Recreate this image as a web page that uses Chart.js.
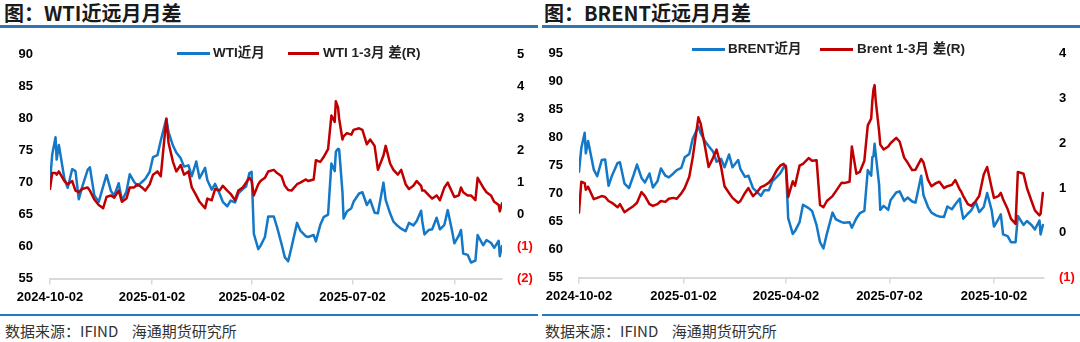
<!DOCTYPE html>
<html lang="zh-CN">
<head>
<meta charset="utf-8">
<title>近远月月差</title>
<script src="https://cdn.jsdelivr.net/npm/chart.js@4.4.1/dist/chart.umd.min.js"></script>
<style>
  html, body { margin: 0; padding: 0; background: #fff; }
  body { width: 1080px; height: 342px; position: relative; overflow: hidden;
         font-family: "Noto Sans CJK SC", "Liberation Sans", sans-serif; color: #222; }
  .panel { position: absolute; top: 0; width: 540px; height: 342px; }
  .title { position: absolute; left: 4px; top: 0px; font-size: 20px; font-weight: bold; line-height: 25px; color: #1a1a1a; white-space: nowrap; }
  .rule-top { position: absolute; left: 0; right: 2px; top: 25px; height: 3px; background: #2e75b6; }
  .rule-bottom { position: absolute; left: 0; right: 2px; top: 314px; height: 2px; background: #1f7bc8; }
  .source { position: absolute; left: 5px; top: 321px; font-size: 15px; line-height: 20px; color: #333; white-space: pre; }
  canvas { position: absolute; left: 0; top: 30px; }
  .lg { position: absolute; font: bold 13.5px "Liberation Sans", "Noto Sans CJK SC", sans-serif; color: #222; line-height: 16px; white-space: nowrap; }
  .sw { position: absolute; height: 3px; }
</style>
</head>
<body>

<div class="panel" style="left:0">
  <div class="title">图：WTI近远月月差</div>
  <div class="rule-top"></div>
  <canvas id="wtiChart" width="540" height="280"></canvas>
  <div class="sw" style="left:177px; top:52px; width:33px; background:#1478c8"></div>
  <div class="lg" style="left:213px; top:45px">WTI近月</div>
  <div class="sw" style="left:288px; top:52px; width:31px; background:#c00000"></div>
  <div class="lg" style="left:323px; top:45px">WTI 1-3月 差(R)</div>
  <div class="rule-bottom"></div>
  <div class="source">数据来源：IFIND    海通期货研究所</div>
</div>

<div class="panel" style="left:540px">
  <div class="title">图：BRENT近远月月差</div>
  <div class="rule-top" style="left:2px; right:0"></div>
  <canvas id="brentChart" width="540" height="280"></canvas>
  <div class="sw" style="left:152px; top:48px; width:33px; background:#1478c8"></div>
  <div class="lg" style="left:188px; top:41px">BRENT近月</div>
  <div class="sw" style="left:280px; top:48px; width:33px; background:#c00000"></div>
  <div class="lg" style="left:317px; top:41px">Brent 1-3月 差(R)</div>
  <div class="rule-bottom" style="left:2px; right:0"></div>
  <div class="source">数据来源：IFIND    海通期货研究所</div>
</div>

<script>
// 取样日期（两张图共用）
const dates = [
  '2024-10-02','2024-10-04','2024-10-07','2024-10-08','2024-10-10','2024-10-15','2024-10-18','2024-10-22','2024-10-25','2024-10-28','2024-10-31',
  '2024-11-05','2024-11-07','2024-11-11','2024-11-15','2024-11-19','2024-11-22','2024-11-26','2024-11-29',
  '2024-12-03','2024-12-06','2024-12-10','2024-12-13','2024-12-17','2024-12-20','2024-12-24','2024-12-27','2024-12-31',
  '2025-01-03','2025-01-07','2025-01-10','2025-01-15','2025-01-17','2025-01-21','2025-01-24','2025-01-28','2025-01-31',
  '2025-02-04','2025-02-07','2025-02-11','2025-02-14','2025-02-19','2025-02-21','2025-02-25','2025-02-28',
  '2025-03-04','2025-03-07','2025-03-11','2025-03-14','2025-03-18','2025-03-21','2025-03-25','2025-03-28','2025-03-31',
  '2025-04-02','2025-04-04','2025-04-08','2025-04-10','2025-04-14','2025-04-17','2025-04-22','2025-04-25','2025-04-29',
  '2025-05-02','2025-05-05','2025-05-08','2025-05-13','2025-05-16','2025-05-21','2025-05-23','2025-05-28','2025-05-30',
  '2025-06-03','2025-06-06','2025-06-10','2025-06-13','2025-06-16','2025-06-17','2025-06-18','2025-06-19','2025-06-20','2025-06-23','2025-06-24','2025-06-27',
  '2025-07-01','2025-07-03','2025-07-08','2025-07-11','2025-07-15','2025-07-18','2025-07-22','2025-07-25','2025-07-30',
  '2025-08-01','2025-08-05','2025-08-08','2025-08-12','2025-08-15','2025-08-19','2025-08-22','2025-08-26','2025-08-29',
  '2025-09-02','2025-09-03','2025-09-05','2025-09-09','2025-09-12','2025-09-16','2025-09-19','2025-09-23','2025-09-26','2025-09-30',
  '2025-10-02','2025-10-06','2025-10-08','2025-10-10','2025-10-14','2025-10-17','2025-10-21','2025-10-23','2025-10-28','2025-10-31',
  '2025-11-04','2025-11-07','2025-11-11','2025-11-12','2025-11-14'
];

// WTI近月（左轴）
const wtiNear = [
  70.1, 74.4, 77.1, 73.6, 75.9, 70.6, 69.2, 72.1, 71.8, 67.4, 69.3,
  72.0, 72.4, 68.0, 67.0, 69.4, 71.2, 68.7, 68.0,
  69.9, 67.2, 68.6, 71.3, 70.1, 69.5, 70.1, 70.6, 71.7,
  74.0, 74.3, 76.6, 80.0, 77.9, 75.8, 74.7, 73.8, 72.5,
  72.7, 71.0, 73.3, 70.7, 72.3, 70.4, 68.9, 69.8,
  68.3, 67.0, 66.3, 67.2, 66.9, 68.3, 69.0, 69.4, 71.5,
  71.7, 62.0, 59.6, 60.1, 61.5, 64.7, 64.7, 63.0, 60.4,
  58.3, 57.7, 59.9, 63.7, 62.5, 61.6, 61.5, 61.8, 60.8,
  63.4, 64.6, 65.0, 73.0, 71.8, 74.8, 75.1, 75.3, 75.2, 68.5, 64.4, 65.5,
  66.0, 67.0, 68.3, 68.5, 66.5, 67.3, 65.3, 65.2, 70.0,
  67.3, 65.2, 63.9, 63.2, 62.8, 62.4, 63.7, 63.3, 64.0,
  65.6, 64.0, 61.9, 62.6, 62.7, 64.5, 62.7, 63.4, 65.7, 62.4,
  60.5, 61.7, 62.6, 58.9, 58.7, 57.5, 57.8, 61.8, 60.2, 61.0,
  60.6, 59.8, 60.9, 58.5, 60.1
];

// WTI 1-3月差（右轴）
const wtiSpread = [
  0.80, 1.30, 1.30, 1.25, 1.35, 1.05, 0.95, 1.05, 0.75, 0.70, 0.80,
  0.85, 0.75, 0.47, 0.30, 0.20, 0.55, 0.60, 0.53,
  0.75, 0.40, 0.50, 0.85, 0.85, 0.95, 0.85, 0.75, 0.95,
  1.25, 1.35, 1.20, 3.00, 2.25, 1.65, 1.35, 1.55, 1.25,
  1.35, 0.85, 0.60, 0.40, 0.20, 0.50, 0.45, 0.80,
  0.75, 0.90, 0.75, 0.65, 0.45, 0.75, 0.85, 1.00, 1.15,
  1.05, 0.60, 0.95, 1.05, 1.15, 1.35, 1.40, 1.30, 1.20,
  0.90, 0.77, 0.75, 0.95, 1.00, 1.10, 1.05, 1.10, 1.70,
  1.65, 1.80, 2.05, 3.10, 2.90, 3.55, 3.45, 3.35, 3.00, 2.35, 2.45, 2.55,
  2.50, 2.65, 2.70, 2.65, 2.20, 2.35, 2.15, 1.40, 1.85,
  2.15, 1.60, 1.40, 1.25, 1.40, 0.95, 0.80, 0.90, 1.05,
  0.90, 0.75, 0.75, 0.60, 0.50, 0.60, 0.45, 0.85, 1.00, 0.70,
  0.55, 0.60, 0.85, 0.70, 0.60, 0.60, 0.45, 1.15, 0.85, 0.70,
  0.60, 0.40, 0.30, 0.10, 0.35
];

// BRENT近月（左轴）
const brentNear = [
  73.9, 78.1, 80.9, 77.2, 79.4, 74.3, 73.1, 76.0, 76.1, 71.4, 73.2,
  75.5, 75.6, 71.8, 71.0, 73.3, 75.2, 72.8, 72.0,
  73.6, 71.1, 72.2, 74.5, 73.2, 72.9, 73.6, 74.2, 74.6,
  76.5, 77.1, 79.8, 82.0, 80.8, 79.3, 78.5, 77.5, 75.7,
  76.2, 74.7, 77.0, 74.7, 76.0, 74.4, 73.0, 73.2,
  71.0, 70.4, 69.6, 70.6, 70.6, 72.2, 73.0, 73.6, 74.7,
  75.0, 65.6, 62.8, 63.3, 64.9, 68.0, 67.4, 66.9, 64.3,
  61.3, 60.2, 62.8, 66.6, 65.4, 64.9, 64.8, 64.9, 63.9,
  65.6, 66.5, 66.9, 74.2, 73.2, 76.5, 76.7, 78.9, 77.0, 71.5, 67.1, 67.8,
  67.1, 68.8, 70.2, 70.4, 68.7, 69.3, 68.6, 68.4, 73.2,
  69.7, 67.6, 66.6, 66.1, 65.9, 65.8, 67.7, 67.2, 68.1,
  69.1, 67.6, 65.5, 66.4, 67.0, 68.5, 66.7, 67.6, 70.1, 67.0,
  64.1, 65.5, 66.3, 62.7, 62.4, 61.3, 61.3, 66.0, 64.4, 65.1,
  64.4, 63.6, 65.2, 62.7, 64.4
];

// Brent 1-3月差（右轴）
const brentSpread = [
  0.45, 1.14, 1.11, 0.96, 1.03, 0.75, 0.78, 0.82, 0.80, 0.71, 0.67,
  0.57, 0.64, 0.46, 0.53, 0.60, 0.67, 0.91, 0.82,
  0.64, 0.60, 0.64, 0.71, 0.69, 0.76, 0.78, 0.76, 0.88,
  1.00, 1.25, 1.68, 2.58, 2.44, 1.90, 1.47, 1.68, 1.86,
  1.47, 1.04, 0.89, 0.78, 0.67, 0.71, 0.89, 1.00,
  0.82, 0.89, 1.02, 1.05, 1.12, 1.21, 1.40, 1.50, 1.54,
  1.47, 0.80, 1.15, 1.05, 1.50, 1.54, 1.67, 1.61, 1.62,
  0.62, 0.57, 0.71, 0.82, 0.93, 1.12, 1.11, 1.14, 1.93,
  1.32, 1.36, 1.61, 2.40, 2.55, 2.95, 3.20, 3.30, 2.95, 2.26, 1.97, 1.86,
  1.93, 2.00, 2.12, 2.04, 1.68, 1.57, 1.40, 1.41, 1.65,
  1.57, 1.18, 1.04, 1.11, 1.14, 1.00, 1.04, 1.07, 1.18,
  0.96, 0.93, 0.82, 0.64, 0.60, 0.71, 0.82, 1.30, 1.47, 1.00,
  0.78, 0.82, 0.89, 0.75, 0.53, 0.31, 0.20, 1.36, 1.32, 1.00,
  0.71, 0.50, 0.39, 0.42, 0.89
];

// 横轴刻度
const tickDates = ['2024-10-02', '2025-01-02', '2025-04-02', '2025-07-02', '2025-10-02'];

document.addEventListener('DOMContentLoaded', function() {
    const BLUE = '#1478c8';
    const RED = '#c00000';
    const base = Date.UTC(2024, 9, 2);

    // 日期 -> 距 2024-10-02 的天数
    function dayOf(s) {
        const p = s.split('-').map(Number);
        return (Date.UTC(p[0], p[1] - 1, p[2]) - base) / 86400000;
    }
    function points(values) {
        return values.map((v, i) => ({ x: dayOf(dates[i]), y: v }));
    }

    const tickFont = { family: '"Liberation Sans", Arial, sans-serif', size: 13, weight: 'bold' };

    // g: 绘图区在画布中的位置
    function buildChart(id, near, spread, g) {
        const ctx = document.getElementById(id).getContext('2d');
        return new Chart(ctx, {
            type: 'line',
            data: {
                datasets: [
                    { data: points(near), borderColor: BLUE, borderWidth: 2.5, yAxisID: 'y', order: 1 },
                    { data: points(spread), borderColor: RED, borderWidth: 2.5, yAxisID: 'y1', order: 0 }
                ]
            },
            options: {
                responsive: false,
                animation: false,
                layout: { padding: { top: g.top, left: 0, right: 0, bottom: 0 } },
                elements: {
                    line: { tension: 0, borderJoinStyle: 'round', borderCapStyle: 'round' },
                    point: { radius: 0 }
                },
                plugins: { legend: { display: false }, tooltip: { enabled: false } },
                scales: {
                    x: {
                        type: 'linear',
                        min: 0, max: g.xMax,
                        afterBuildTicks: s => { s.ticks = tickDates.map(d => ({ value: dayOf(d) })); },
                        afterFit: s => { s.height = g.xHeight; },
                        ticks: {
                            autoSkip: false, maxRotation: 0, padding: 5,
                            color: '#000', font: tickFont,
                            callback: (v, i) => tickDates[i]
                        },
                        grid: { display: true, drawOnChartArea: false, drawTicks: true, tickLength: 6, color: '#d9d9d9', lineWidth: 1.5 },
                        border: { display: true, color: '#d9d9d9', width: 2 }
                    },
                    y: {
                        position: 'left',
                        min: g.yMin, max: g.yMax,
                        afterFit: s => { s.width = g.left; },
                        ticks: { stepSize: 5, padding: g.lPad, color: '#000', font: tickFont },
                        grid: { display: false, drawTicks: false },
                        border: { display: false }
                    },
                    y1: {
                        position: 'right',
                        min: g.y1Min, max: g.y1Max,
                        afterFit: s => { s.width = g.right; },
                        ticks: {
                            stepSize: 1, padding: 15, font: tickFont,
                            color: c => c.tick.value < 0 ? '#ff0000' : '#000',
                            callback: v => v < 0 ? '(' + (-v) + ')' : v
                        },
                        grid: { display: false, drawTicks: false },
                        border: { display: false }
                    }
                }
            }
        });
    }

    // WTI：绘图区 x 50~502，y 45~278.5
    buildChart('wtiChart', wtiNear, wtiSpread, {
        top: 15, left: 50, right: 38, xHeight: 31.5, lPad: 17,
        xMax: 408, yMin: 55, yMax: 90, y1Min: -2, y1Max: 5
    });

    // BRENT：绘图区 x 579~1044，y 46~277.5
    buildChart('brentChart', brentNear, brentSpread, {
        top: 16, left: 39, right: 36, xHeight: 32.5, lPad: 16,
        xMax: 409, yMin: 55, yMax: 95, y1Min: -1, y1Max: 4
    });
});
</script>
</body>
</html>
